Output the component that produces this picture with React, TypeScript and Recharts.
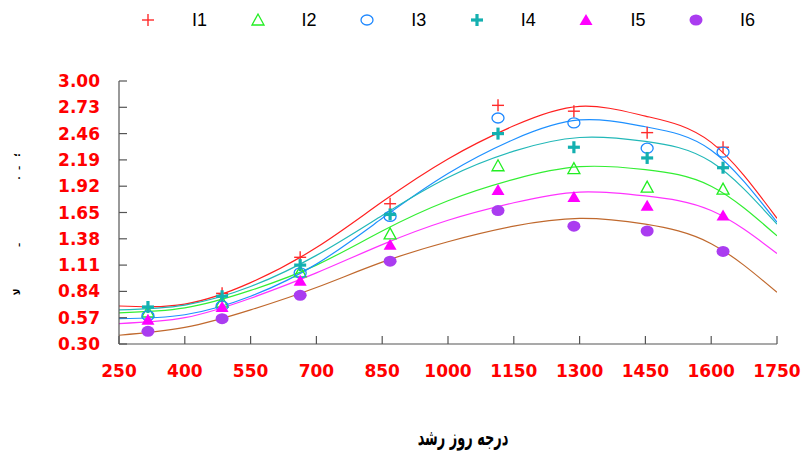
import { ComposedChart, Line, Scatter, XAxis, YAxis } from 'recharts';

// axis ticks
const xTicks = [250, 400, 550, 700, 850, 1000, 1150, 1300, 1450, 1600, 1750];
const yTicks = [0.3, 0.57, 0.84, 1.11, 1.38, 1.65, 1.92, 2.19, 2.46, 2.73, 3.0];

// fitted curves, sampled at the x tick positions
const curveGdd = [250, 400, 550, 700, 850, 1000, 1150, 1300, 1450, 1600, 1750];
const fitI1 = [0.69, 0.71, 0.93, 1.29, 1.76, 2.2, 2.54, 2.74, 2.64, 2.37, 1.59];
const fitI2 = [0.62, 0.67, 0.85, 1.11, 1.46, 1.77, 1.99, 2.12, 2.09, 1.92, 1.41];
const fitI3 = [0.56, 0.6, 0.79, 1.12, 1.59, 2.05, 2.4, 2.6, 2.53, 2.29, 1.55];
const fitI4 = [0.65, 0.7, 0.89, 1.21, 1.62, 2.01, 2.28, 2.42, 2.38, 2.17, 1.53];
const fitI5 = [0.51, 0.57, 0.77, 1.03, 1.32, 1.57, 1.75, 1.86, 1.82, 1.67, 1.23];
const fitI6 = [0.39, 0.47, 0.65, 0.88, 1.14, 1.35, 1.51, 1.59, 1.53, 1.33, 0.83];

// observed values at each sampling date
const sampleGdd = [316, 485, 663, 868, 1114, 1287, 1454, 1627];
const obsI1 = [0.68, 0.82, 1.19, 1.74, 2.75, 2.69, 2.47, 2.32];
const obsI2 = [0.63, 0.73, 1.04, 1.43, 2.13, 2.1, 1.91, 1.89];
const obsI3 = [0.59, 0.69, 1.03, 1.61, 2.62, 2.57, 2.31, 2.27];
const obsI4 = [0.68, 0.79, 1.11, 1.63, 2.46, 2.32, 2.21, 2.11];
const obsI5 = [0.55, 0.68, 0.95, 1.32, 1.88, 1.81, 1.72, 1.62];
const obsI6 = [0.43, 0.56, 0.8, 1.15, 1.67, 1.51, 1.46, 1.25];

const toPoints = (xs: number[], ys: number[]) => xs.map((x, i) => ({ x, y: ys[i] }));

type Mark = 'plus' | 'tri' | 'ring' | 'boldPlus' | 'solidTri' | 'dot';

const drawMark = (mark: Mark, color: string, cx: number, cy: number) => {
  switch (mark) {
    case 'plus':
      return (
        <g stroke={color} strokeWidth={1.4}>
          <line x1={cx - 6} y1={cy} x2={cx + 6} y2={cy} />
          <line x1={cx} y1={cy - 6} x2={cx} y2={cy + 6} />
        </g>
      );
    case 'boldPlus':
      return (
        <g stroke={color} strokeWidth={3.2}>
          <line x1={cx - 6} y1={cy} x2={cx + 6} y2={cy} />
          <line x1={cx} y1={cy - 6} x2={cx} y2={cy + 6} />
        </g>
      );
    case 'tri':
      return (
        <polygon
          points={`${cx - 6},${cy + 5} ${cx + 6},${cy + 5} ${cx},${cy - 6}`}
          fill="none"
          stroke={color}
          strokeWidth={1.3}
        />
      );
    case 'solidTri':
      return <polygon points={`${cx - 6.5},${cy + 5} ${cx + 6.5},${cy + 5} ${cx},${cy - 6}`} fill={color} />;
    case 'ring':
      return <ellipse cx={cx} cy={cy} rx={6} ry={5} fill="none" stroke={color} strokeWidth={1.3} />;
    default:
      return <ellipse cx={cx} cy={cy} rx={6.5} ry={5.5} fill={color} />;
  }
};

const series = [
  { name: 'I1', mark: 'plus' as Mark, color: '#ff2a2a', line: '#ff2020', fit: fitI1, obs: obsI1 },
  { name: 'I2', mark: 'tri' as Mark, color: '#22ee22', line: '#33ee33', fit: fitI2, obs: obsI2 },
  { name: 'I3', mark: 'ring' as Mark, color: '#1e88ff', line: '#1e90ff', fit: fitI3, obs: obsI3 },
  { name: 'I4', mark: 'boldPlus' as Mark, color: '#14b0b0', line: '#22b8b8', fit: fitI4, obs: obsI4 },
  { name: 'I5', mark: 'solidTri' as Mark, color: '#ff00ff', line: '#ff33ff', fit: fitI5, obs: obsI5 },
  { name: 'I6', mark: 'dot' as Mark, color: '#aa3cf0', line: '#c0692e', fit: fitI6, obs: obsI6 },
];

const tickFont = 'DejaVu Sans, sans-serif';

const XTick = (props: any) => {
  const { x, y, payload } = props;
  const axisY = y - 21;
  return (
    <g>
      <line x1={x} y1={axisY} x2={x} y2={axisY - 8} stroke="#555" strokeWidth={1.2} />
      <text x={x} y={y} dy="0.71em" textAnchor="middle" fill="#ff0000" fontSize={17} fontWeight="bold" fontFamily={tickFont}>
        {payload.value}
      </text>
    </g>
  );
};

const YTick = (props: any) => {
  const { x, y, payload } = props;
  const axisX = x + 19;
  return (
    <g>
      <line x1={axisX} y1={y} x2={axisX + 8} y2={y} stroke="#555" strokeWidth={1.2} />
      <text x={x} y={y} dy="0.355em" textAnchor="end" fill="#ff0000" fontSize={17} fontWeight="bold" fontFamily={tickFont}>
        {Number(payload.value).toFixed(2)}
      </text>
    </g>
  );
};

const LegendRow = () => (
  <div style={{ position: 'absolute', left: 0, top: 0, width: 803, height: 40 }}>
    {series.map((s, i) => (
      <div key={s.name} style={{ position: 'absolute', left: 138 + i * 109.6, top: 8 }}>
        <svg width={20} height={24} style={{ position: 'absolute', left: 0, top: 0 }}>
          {drawMark(s.mark, s.color, 10, 12)}
        </svg>
        <span
          style={{
            position: 'absolute',
            left: 54,
            top: 2,
            fontSize: 18,
            fontFamily: 'Liberation Sans, Arial, sans-serif',
            color: '#000',
            whiteSpace: 'nowrap',
          }}
        >
          {s.name}
        </span>
      </div>
    ))}
  </div>
);

export default function App() {
  return (
    <div style={{ position: 'absolute', left: 0, top: 0, width: 803, height: 454, background: '#fff' }}>
      <ComposedChart width={803} height={454} margin={{ top: 81, right: 26, left: 0, bottom: 0 }}>
        <XAxis
          type="number"
          dataKey="x"
          domain={[250, 1750]}
          ticks={xTicks}
          allowDataOverflow
          height={110}
          axisLine={{ stroke: '#555', strokeWidth: 1.2 }}
          tickLine={false}
          tickSize={0}
          tickMargin={21}
          tick={<XTick />}
          interval={0}
        />
        <YAxis
          type="number"
          dataKey="y"
          domain={[0.3, 3.0]}
          ticks={yTicks}
          allowDataOverflow
          width={119}
          axisLine={{ stroke: '#555', strokeWidth: 1.2 }}
          tickLine={false}
          tickSize={0}
          tickMargin={19}
          tick={<YTick />}
          interval={0}
        />
        {series.map((s) => (
          <Line
            key={`fit-${s.name}`}
            data={toPoints(curveGdd, s.fit)}
            dataKey="y"
            type="natural"
            stroke={s.line}
            strokeWidth={1.2}
            dot={false}
            activeDot={false}
            legendType="none"
            isAnimationActive={false}
          />
        ))}
        {series.map((s) => (
          <Scatter
            key={`obs-${s.name}`}
            name={s.name}
            data={toPoints(sampleGdd, s.obs)}
            dataKey="y"
            shape={(p: any) => drawMark(s.mark, s.color, p.cx, p.cy)}
            isAnimationActive={false}
          />
        ))}
      </ComposedChart>
      <LegendRow />
      {/* leftover fragments of the vertical axis title */}
      <svg width={30} height={454} style={{ position: 'absolute', left: 0, top: 0 }}>
        <g fontFamily="DejaVu Sans" fontWeight="bold" fontSize={9} fill="#000">
          <text transform="translate(20,155) rotate(-90)" textAnchor="middle">؛</text>
          <text transform="translate(20,168) rotate(-90)" textAnchor="middle">ـ</text>
          <text transform="translate(20,178) rotate(-90)" textAnchor="middle">.</text>
          <text transform="translate(20,245) rotate(-90)" textAnchor="middle">ـ</text>
          <text transform="translate(20,292) rotate(-90)" textAnchor="middle">ﻻ</text>
        </g>
      </svg>
      <div
        style={{
          position: 'absolute',
          left: 363,
          top: 427,
          width: 200,
          textAlign: 'center',
          fontFamily: 'DejaVu Sans',
          fontWeight: 'bold',
          fontSize: 17,
          direction: 'rtl',
          color: '#000',
          transform: 'scale(0.76, 1.3)',
        }}
      >
        درجه روز رشد
      </div>
    </div>
  );
}
